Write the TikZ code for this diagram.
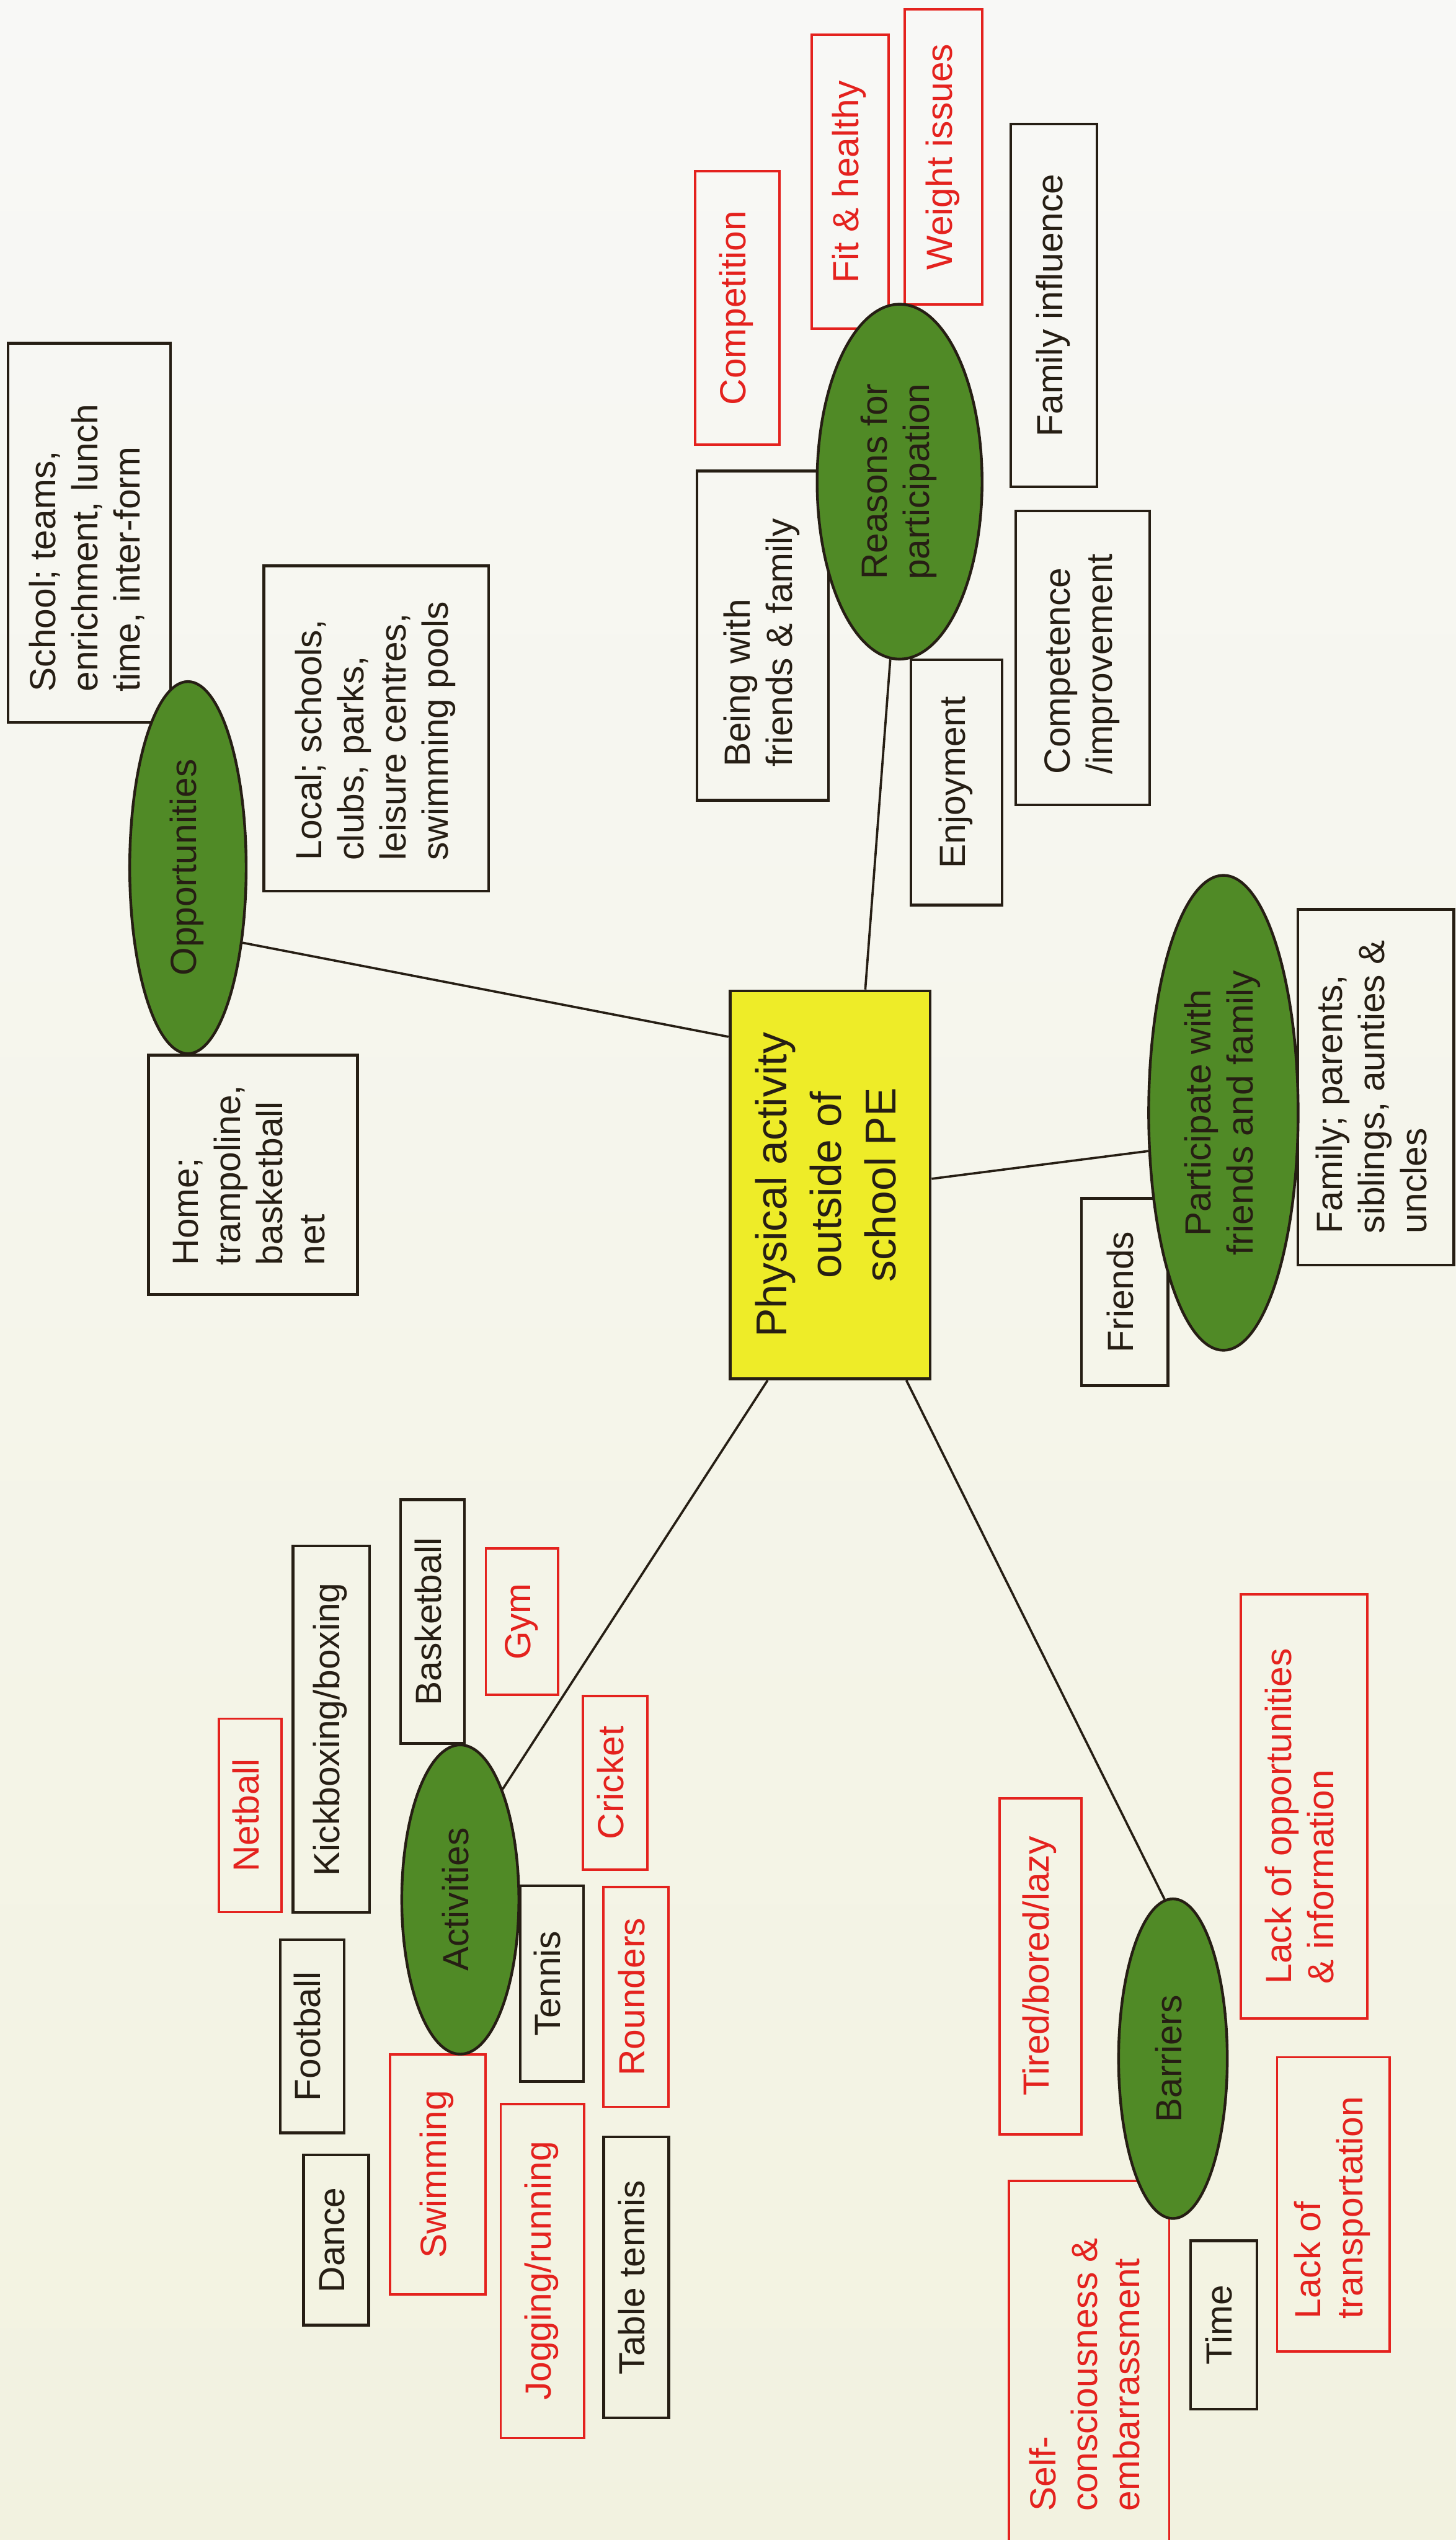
\documentclass[tikz,border=0pt]{standalone}
\usepackage{fontspec}
\setmainfont{Liberation Sans}
\usepackage{graphicx}
\usetikzlibrary{shapes.geometric,calc}

\definecolor{ink}{RGB}{38,30,20}
\definecolor{leaf}{RGB}{80,138,38}
\definecolor{hub}{RGB}{238,236,40}
\definecolor{alert}{RGB}{228,34,30}
\definecolor{papertop}{RGB}{248,248,246}
\definecolor{paperbot}{RGB}{242,242,224}

% text turned to read upwards: centred lines, or lines set flush in a block of given length
\newcommand\vtc[1]{\rotatebox{90}{\begin{tabular}{@{}c@{}}#1\end{tabular}}}
\newcommand\vtl[2]{\rotatebox{90}{\begin{minipage}{#1}\begin{tabular}{@{}l@{}}#2\end{tabular}\end{minipage}}}

\tikzset{
  plainbox/.style={rectangle, draw=ink, line width=2.4pt, inner sep=0pt, text=ink,
                   font=\fontsize{32}{37}\selectfont},
  redbox/.style={plainbox, draw=alert, text=alert, line width=2.1pt},
  oval/.style={ellipse, draw=ink, fill=leaf, line width=2.4pt, inner sep=0pt, text=ink,
               font=\fontsize{32}{37}\selectfont},
  hubbox/.style={rectangle, draw=ink, fill=hub, line width=2.6pt, inner sep=0pt, text=ink,
                 font=\fontsize{38}{48}\selectfont},
  conn/.style={draw=ink, line width=2pt}
}

\begin{document}
\begin{tikzpicture}
\useasboundingbox (0,0) rectangle (45,-78.52);
\shade[top color=papertop, bottom color=paperbot] (0,0) rectangle (45,-78.52);

% ---- Opportunities branch
\node[plainbox, minimum width=5.02cm, minimum height=11.72cm] (school) at (2.76,-16.47)
  {\vtl{9.82cm}{School; teams,\\enrichment, lunch\\time, inter-form}};
\node[plainbox, minimum width=6.94cm, minimum height=10.05cm] (local) at (11.63,-22.52)
  {\vtl{8.15cm}{Local; schools,\\clubs, parks,\\leisure centres,\\swimming pools}};
\node[plainbox, minimum width=6.46cm, minimum height=7.40cm] (home) at (7.82,-36.32)
  {\vtl{5.58cm}{Home;\\trampoline,\\basketball\\net}};

% ---- Reasons for participation branch
\node[redbox, minimum width=2.60cm, minimum height=8.45cm] (competition) at (22.79,-9.52) {\vtc{Competition}};
\node[redbox, minimum width=2.39cm, minimum height=9.08cm] (fit) at (26.28,-5.62) {\vtc{Fit \& healthy}};
\node[redbox, minimum width=2.39cm, minimum height=9.12cm] (weight) at (29.17,-4.85) {\vtc{Weight issues}};
\node[plainbox, minimum width=2.67cm, minimum height=11.22cm] (faminfl) at (32.58,-9.44) {\vtc{Family influence}};
\node[plainbox, minimum width=4.06cm, minimum height=10.18cm] (being) at (23.58,-19.65)
  {\vtl{8.12cm}{Being with\\friends \& family}};
\node[plainbox, minimum width=2.81cm, minimum height=7.58cm] (enjoy) at (29.57,-24.19) {\vtc{Enjoyment}};
\node[plainbox, minimum width=4.13cm, minimum height=9.08cm] (compet) at (33.47,-20.34)
  {\vtl{7.18cm}{Competence\\/improvement}};

% ---- Participate with friends and family branch
\node[plainbox, minimum width=4.82cm, minimum height=11.00cm] (famp) at (42.53,-33.61)
  {\vtl{9.04cm}{Family; parents,\\siblings, aunties \&\\uncles}};
\node[plainbox, minimum width=2.67cm, minimum height=5.79cm] (friends) at (34.77,-39.94) {\vtc{Friends}};

% ---- Activities branch
\node[redbox, minimum width=1.93cm, minimum height=5.98cm] (netball) at (7.74,-56.12) {\vtc{Netball}};
\node[plainbox, minimum width=2.36cm, minimum height=11.33cm] (kick) at (10.24,-53.46) {\vtc{Kickboxing/boxing}};
\node[plainbox, minimum width=1.97cm, minimum height=7.53cm] (basket) at (13.37,-50.13) {\vtc{Basketball}};
\node[redbox, minimum width=2.24cm, minimum height=4.52cm] (gym) at (16.14,-50.13) {\vtc{Gym}};
\node[redbox, minimum width=1.99cm, minimum height=5.36cm] (cricket) at (19.01,-55.11) {\vtc{Cricket}};
\node[redbox, minimum width=2.00cm, minimum height=6.80cm] (rounders) at (19.66,-61.73) {\vtc{Rounders}};
\node[plainbox, minimum width=1.96cm, minimum height=6.04cm] (tennis) at (17.06,-61.32) {\vtc{Tennis}};
\node[plainbox, minimum width=1.98cm, minimum height=5.97cm] (football) at (9.65,-62.95) {\vtc{Football}};
\node[plainbox, minimum width=2.01cm, minimum height=5.26cm] (dance) at (10.39,-69.25) {\vtc{Dance}};
\node[redbox, minimum width=2.95cm, minimum height=7.41cm] (swim) at (13.53,-67.22) {\vtc{Swimming}};
\node[redbox, minimum width=2.58cm, minimum height=10.33cm] (jog) at (16.77,-70.20) {\vtc{Jogging/running}};
\node[plainbox, minimum width=2.01cm, minimum height=8.68cm] (table) at (19.67,-70.40) {\vtc{Table tennis}};

% ---- Barriers branch
\node[redbox, minimum width=2.53cm, minimum height=10.39cm] (tired) at (32.17,-60.78) {\vtc{Tired/bored/lazy}};
\node[redbox, minimum width=3.91cm, minimum height=13.12cm] (lackopp) at (40.32,-55.84)
  {\vtl{10.98cm}{Lack of opportunities\\\& information}};
\node[redbox, minimum width=3.48cm, minimum height=9.09cm] (lacktrans) at (41.22,-68.14)
  {\vtl{7.09cm}{Lack of\\transportation}};
\node[redbox, minimum width=4.95cm, minimum height=11.29cm] (self) at (33.67,-73.06)
  {\vtl{9.13cm}{Self-\\consciousness \&\\embarrassment}};
\node[plainbox, minimum width=2.05cm, minimum height=5.20cm] (time) at (37.83,-71.87) {\vtc{Time}};

% ---- theme ovals
\node[oval, minimum width=3.60cm, minimum height=11.50cm] (opp) at (5.81,-26.82) {\vtc{Opportunities}};
\node[oval, minimum width=5.10cm, minimum height=10.97cm] (reasons) at (27.81,-14.89) {\vtc{Reasons for\\participation}};
\node[oval, minimum width=4.62cm, minimum height=14.68cm] (part) at (37.82,-34.40) {\vtc{Participate with\\friends and family}};
\node[oval, minimum width=3.62cm, minimum height=9.56cm] (act) at (14.23,-58.72) {\vtc{Activities}};
\node[oval, minimum width=3.36cm, minimum height=9.88cm] (bar) at (36.26,-63.64) {\vtc{Barriers}};

% ---- central topic
\node[hubbox, minimum width=6.19cm, minimum height=11.99cm] (pe) at (25.66,-36.63)
  {\vtc{Physical activity\\outside of\\school PE}};

% ---- connectors from the central topic to each theme
\draw[conn] (opp.-54) -- ([yshift=-1.46cm]pe.north west);
\draw[conn] (reasons.-93) -- ([xshift=4.23cm]pe.north west);
\draw[conn] ([yshift=-5.85cm]pe.north east) -- (part.207);
\draw[conn] ([xshift=1.21cm]pe.south west) -- (act.69);
\draw[conn] ([xshift=5.5cm]pe.south west) -- (bar.93);
\end{tikzpicture}
\end{document}
